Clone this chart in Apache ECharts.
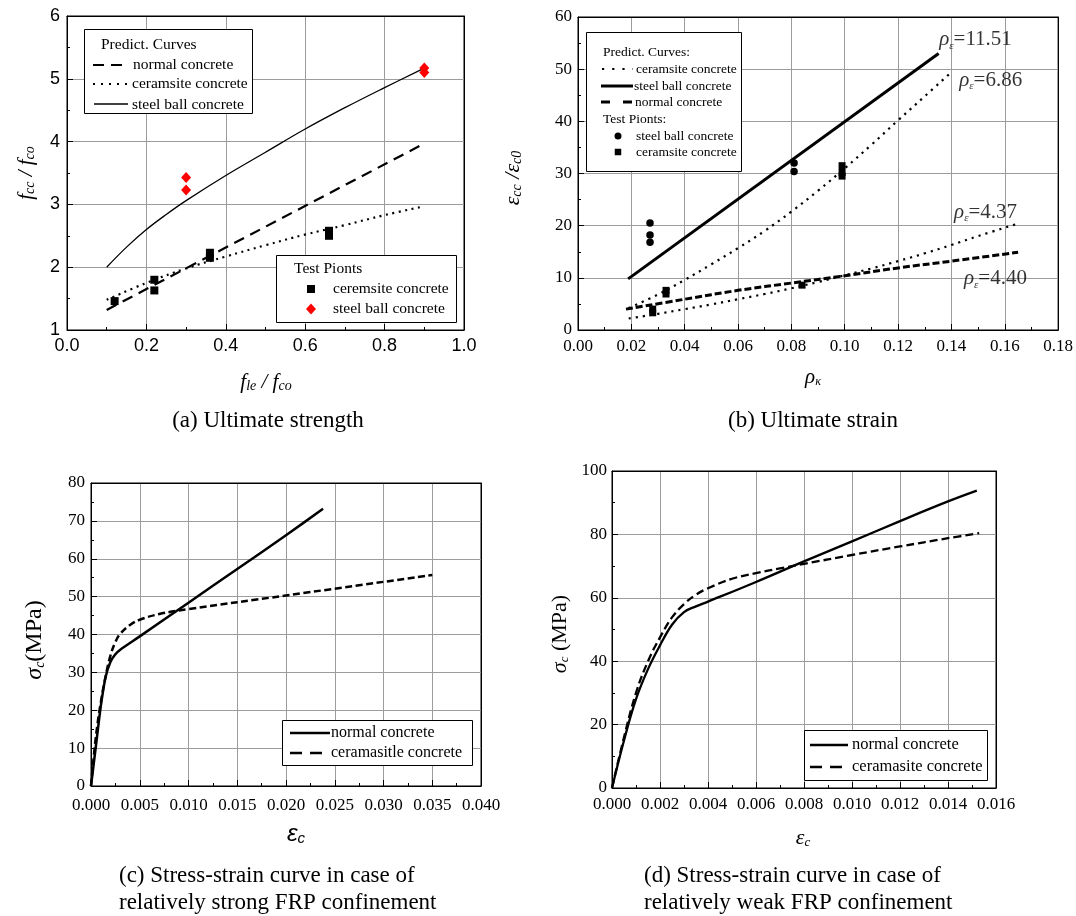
<!DOCTYPE html>
<html>
<head>
<meta charset="utf-8">
<script src="https://cdn.jsdelivr.net/npm/echarts@6/dist/echarts.min.js"></script>
<style>
  html, body { margin: 0; padding: 0; background: #fff; }
  #chart { width: 1076px; height: 916px; }
</style>
</head>
<body>
<div id="chart"></div>
<script>
// ---------- (a) Ultimate strength ----------
const aCurveX = [0.1, 0.2, 0.3, 0.4, 0.5, 0.6, 0.7, 0.8, 0.9];
const aCeramsiteCurve = [1.48, 1.75, 1.98, 2.17, 2.35, 2.52, 2.67, 2.83, 2.97];
const aNormalX = [0.1, 0.9];
const aNormalCurve = [1.32, 3.97];
const aSteelX = [0.1, 0.15, 0.2, 0.25, 0.3, 0.4, 0.5, 0.6, 0.7, 0.8, 0.9];
const aSteelCurve = [2.0, 2.32, 2.6, 2.84, 3.06, 3.46, 3.83, 4.2, 4.54, 4.86, 5.17];
const aCeramsiteTestX = [0.12, 0.22, 0.22, 0.36, 0.36, 0.66, 0.66];
const aCeramsiteTestY = [1.46, 1.80, 1.63, 2.23, 2.15, 2.58, 2.50];
const aSteelTestX = [0.3, 0.3, 0.9, 0.9];
const aSteelTestY = [3.43, 3.23, 5.17, 5.10];
const aXTicks = ['0.0', '0.2', '0.4', '0.6', '0.8', '1.0'];
const aYTicks = ['1', '2', '3', '4', '5', '6'];

// ---------- (b) Ultimate strain ----------
const bSteelX = [0.0188, 0.1352];
const bSteelCurve = [9.8, 53.0];
const bCeramHighX = [0.019, 0.03, 0.04, 0.05, 0.06, 0.07, 0.08, 0.09, 0.10, 0.11, 0.12, 0.13, 0.1395];
const bCeramHighCurve = [4.2, 6.8, 9.6, 12.6, 15.7, 19.0, 22.7, 26.7, 31.0, 35.5, 40.2, 44.8, 49.2];
const bCeramLowX = [0.019, 0.03, 0.04, 0.05, 0.06, 0.07, 0.08, 0.09, 0.10, 0.11, 0.12, 0.13, 0.14, 0.15, 0.1644];
const bCeramLowCurve = [2.2, 3.1, 4.0, 4.9, 5.9, 6.9, 8.0, 9.2, 10.5, 11.8, 13.2, 14.7, 16.3, 18.0, 20.3];
const bNormalX = [0.018, 0.04, 0.06, 0.08, 0.10, 0.12, 0.14, 0.165];
const bNormalCurve = [4.0, 5.9, 7.6, 9.0, 10.4, 11.9, 13.2, 14.9];
const bSteelTestX = [0.027, 0.027, 0.027, 0.081, 0.081];
const bSteelTestY = [20.5, 18.2, 16.8, 32.0, 30.4];
const bCeramTestX = [0.028, 0.028, 0.033, 0.033, 0.084, 0.099, 0.099, 0.099];
const bCeramTestY = [4.0, 3.3, 7.6, 6.9, 8.6, 31.5, 30.2, 29.5];
const bRhoValues = ['11.51', '6.86', '4.37', '4.40'];
const bRhoX = [0.1352, 0.1427, 0.1408, 0.1445];
const bRhoY = [55.6, 47.9, 22.6, 9.8];
const bXTicks = ['0.00', '0.02', '0.04', '0.06', '0.08', '0.10', '0.12', '0.14', '0.16', '0.18'];
const bYTicks = ['0', '10', '20', '30', '40', '50', '60'];

// ---------- (c) strong FRP confinement ----------
const cNormalX = [0, 0.0005, 0.001, 0.0015, 0.002, 0.0025, 0.003, 0.005, 0.01, 0.015, 0.02, 0.0238];
const cNormalY = [0, 10.5, 21, 28.8, 32.8, 34.8, 36.0, 39.5, 48.4, 57.3, 66.2, 73.2];
const cCeramX = [0, 0.0005, 0.001, 0.0015, 0.002, 0.0025, 0.003, 0.004, 0.005, 0.007, 0.01, 0.02, 0.035];
const cCeramY = [0, 13, 22, 29, 34.5, 38, 40.2, 42.5, 43.9, 45.4, 46.7, 50.3, 55.7];
const cXTicks = ['0.000', '0.005', '0.010', '0.015', '0.020', '0.025', '0.030', '0.035', '0.040'];
const cYTicks = ['0', '10', '20', '30', '40', '50', '60', '70', '80'];

// ---------- (d) weak FRP confinement ----------
const dNormalX = [0, 0.0005, 0.001, 0.0015, 0.002, 0.0025, 0.003, 0.0035, 0.004, 0.006, 0.008, 0.01, 0.012, 0.014, 0.0152];
const dNormalY = [0, 15, 28, 37.5, 45, 51.5, 55.5, 57.3, 58.8, 65, 71.5, 77.8, 84.2, 90.4, 93.8];
const dCeramX = [0, 0.0005, 0.001, 0.0015, 0.002, 0.0025, 0.003, 0.0035, 0.004, 0.005, 0.006, 0.007, 0.008, 0.01, 0.012, 0.014, 0.0153];
const dCeramY = [0, 16, 30, 40, 47.5, 53.8, 58, 61, 63, 66, 67.8, 69.3, 70.7, 73.5, 76.2, 78.8, 80.4];
const dXTicks = ['0.000', '0.002', '0.004', '0.006', '0.008', '0.010', '0.012', '0.014', '0.016'];
const dYTicks = ['0', '20', '40', '60', '80', '100'];

const SERIF = '"Liberation Serif", "Times New Roman", serif';
const SANS = '"Liberation Sans", Arial, sans-serif';
const GRID_GRAY = '#9c9c9c';

const pairs = (xs, ys) => xs.map((x, i) => [x, ys[i]]);

const grids = [
  { left: 67, top: 16, width: 397, height: 314 },
  { left: 578, top: 17, width: 482, height: 313 },
  { left: 91, top: 483, width: 390, height: 303 },
  { left: 612, top: 471, width: 384, height: 317 }
].map(g => Object.assign({ show: true, borderColor: '#000', borderWidth: 1, backgroundColor: 'transparent' }, g));

function mainAxis(gi, o) {
  return {
    type: 'value', gridIndex: gi, min: o.min, max: o.max, interval: o.interval,
    axisLine: { show: true, onZero: false, lineStyle: { color: '#000', width: 1 } },
    axisTick: { show: true, inside: true, length: 6, lineStyle: { color: '#000' } },
    minorTick: { show: true, splitNumber: 2, length: 3, lineStyle: { color: '#000' } },
    splitLine: { show: true, lineStyle: { color: GRID_GRAY, width: 1 } },
    axisLabel: {
      margin: o.margin, fontFamily: o.font, fontSize: o.size, color: '#000',
      formatter: v => o.labels[Math.round((v - o.min) / o.interval)]
    }
  };
}
function frameAxis(gi, o, pos) {
  return {
    type: 'value', gridIndex: gi, min: o.min, max: o.max, interval: o.interval, position: pos,
    axisLine: { show: true, onZero: false, lineStyle: { color: '#000', width: 1 } },
    axisTick: { show: false }, axisLabel: { show: false }, splitLine: { show: false }
  };
}

const xSpec = [
  { min: 0, max: 1, interval: 0.2, labels: aXTicks, font: SANS, size: 18, margin: 7 },
  { min: 0, max: 0.18, interval: 0.02, labels: bXTicks, font: SERIF, size: 17, margin: 8 },
  { min: 0, max: 0.04, interval: 0.005, labels: cXTicks, font: SERIF, size: 17, margin: 11 },
  { min: 0, max: 0.016, interval: 0.002, labels: dXTicks, font: SERIF, size: 17, margin: 8 }
];
const ySpec = [
  { min: 1, max: 6, interval: 1, labels: aYTicks, font: SANS, size: 18, margin: 7 },
  { min: 0, max: 60, interval: 10, labels: bYTicks, font: SERIF, size: 17, margin: 6 },
  { min: 0, max: 80, interval: 10, labels: cYTicks, font: SERIF, size: 17, margin: 6 },
  { min: 0, max: 100, interval: 20, labels: dYTicks, font: SERIF, size: 17, margin: 5 }
];

const xAxes = xSpec.map((o, i) => mainAxis(i, o)).concat(xSpec.map((o, i) => frameAxis(i, o, 'top')));
const yAxes = ySpec.map((o, i) => mainAxis(i, o)).concat(ySpec.map((o, i) => frameAxis(i, o, 'right')));

function curve(gi, xs, ys, width, dash, smooth) {
  return {
    type: 'line', xAxisIndex: gi, yAxisIndex: gi, data: pairs(xs, ys),
    symbol: 'none', showSymbol: false, smooth: smooth || false,
    lineStyle: { color: '#000', width: width, type: dash || 'solid', cap: 'butt', join: 'round' },
    silent: true, z: 3
  };
}
function points(gi, xs, ys, symbol, size, color) {
  return {
    type: 'scatter', xAxisIndex: gi, yAxisIndex: gi, data: pairs(xs, ys),
    symbol: symbol, symbolSize: size, itemStyle: { color: color, opacity: 1 }, silent: true, z: 5
  };
}

const rhoRich = {
  r: { fontFamily: SERIF, fontStyle: 'italic', fontSize: 21, color: '#000', lineHeight: 25 },
  e: { fontFamily: SERIF, fontStyle: 'italic', fontSize: 11, color: '#000', padding: [12, 0, 0, 0], lineHeight: 12 },
  v: { fontFamily: SERIF, fontSize: 21, color: '#000', lineHeight: 25 }
};

const series = [
  // (a)
  curve(0, aCurveX, aCeramsiteCurve, 2.2, [2, 4.5], 0.4),
  curve(0, aNormalX, aNormalCurve, 2.2, [11, 7]),
  curve(0, aSteelX, aSteelCurve, 1.3, 'solid', 0.4),
  points(0, aCeramsiteTestX, aCeramsiteTestY, 'rect', 8, '#000'),
  points(0, aSteelTestX, aSteelTestY, 'diamond', [10, 11], '#ff0000'),
  // (b)
  curve(1, bSteelX, bSteelCurve, 3, 'solid'),
  curve(1, bCeramHighX, bCeramHighCurve, 2.2, [2.2, 5], 0.4),
  curve(1, bCeramLowX, bCeramLowCurve, 2.2, [2.2, 5], 0.4),
  curve(1, bNormalX, bNormalCurve, 3, [7, 3], 0.4),
  points(1, bSteelTestX, bSteelTestY, 'circle', 7.5, '#000'),
  points(1, bCeramTestX, bCeramTestY, 'rect', 7, '#000'),
  {
    type: 'scatter', xAxisIndex: 1, yAxisIndex: 1, data: pairs(bRhoX, bRhoY),
    symbolSize: 1, itemStyle: { color: 'rgba(0,0,0,0)' }, silent: true, z: 6,
    label: {
      show: true, position: 'right', distance: 0,
      formatter: p => '{r|ρ}{e|ε}{v|=' + bRhoValues[p.dataIndex] + '}',
      rich: rhoRich
    }
  },
  // (c)
  curve(2, cNormalX, cNormalY, 2.5, 'solid', 0.25),
  curve(2, cCeramX, cCeramY, 2.5, [7, 3.5], 0.4),
  // (d)
  curve(3, dNormalX, dNormalY, 2.3, 'solid', 0.4),
  curve(3, dCeramX, dCeramY, 2.3, [8, 4], 0.4)
];

// ---------- legends, axis titles and captions ----------
const G = [];
function box(x, y, w, h) {
  G.push({ type: 'rect', z: 100, shape: { x: x + 0.5, y: y + 0.5, width: w, height: h },
    style: { fill: '#fff', stroke: '#000', lineWidth: 1 } });
}
function txt(x, y, text, size, extra) {
  G.push({ type: 'text', z: 101, x: x, y: y, style: Object.assign({
    text: text, fontFamily: SERIF, fontSize: size, fill: '#000',
    align: 'left', verticalAlign: 'middle', textAlign: 'left', textVerticalAlign: 'middle'
  }, extra || {}) });
}
function seg(x1, x2, y, width, dash) {
  G.push({ type: 'line', z: 101, shape: { x1: x1, y1: y, x2: x2, y2: y },
    style: { stroke: '#000', lineWidth: width, lineDash: dash || null } });
}
function sq(cx, cy, s) {
  G.push({ type: 'rect', z: 101, shape: { x: cx - s / 2, y: cy - s / 2, width: s, height: s }, style: { fill: '#000' } });
}
function dot(cx, cy, r) {
  G.push({ type: 'circle', z: 101, shape: { cx: cx, cy: cy, r: r }, style: { fill: '#000' } });
}
function diamond(cx, cy, w, h, color) {
  G.push({ type: 'polygon', z: 101, shape: { points: [[cx, cy - h / 2], [cx + w / 2, cy], [cx, cy + h / 2], [cx - w / 2, cy]] },
    style: { fill: color } });
}
function rich(x, y, text, richStyles, rotate) {
  G.push({ type: 'text', z: 101, x: x, y: y, rotation: rotate ? Math.PI / 2 : 0, style: {
    text: text, rich: richStyles, fill: '#000',
    align: 'center', verticalAlign: 'middle', textAlign: 'center', textVerticalAlign: 'middle'
  } });
}
function symRich(mainSize, subSize, drop, mainFamily) {
  const fam = mainFamily || SERIF;
  return {
    i: { fontFamily: fam, fontStyle: 'italic', fontSize: mainSize, color: '#000', lineHeight: mainSize + 4 },
    s: { fontFamily: fam, fontStyle: 'italic', fontSize: subSize, color: '#000', padding: [drop, 0, 0, 0], lineHeight: subSize },
    n: { fontFamily: SERIF, fontSize: mainSize, color: '#000', lineHeight: mainSize + 4 }
  };
}

// (a) prediction-curve legend
box(84, 29, 168, 84);
txt(101, 45, 'Predict. Curves', 15.5);
seg(93, 122, 65, 2.2, [11, 7]);
txt(133, 65, 'normal concrete', 15.5);
seg(93, 130, 84, 2.2, [2, 6]);
txt(132, 84, 'ceramsite concrete', 15.5);
seg(94, 128, 104, 1.3);
txt(132, 105, 'steel ball concrete', 15.5);
// (a) test-point legend
box(276, 255, 180, 67);
txt(294, 269, 'Test Pionts', 15.5);
sq(311, 289, 8);
txt(333, 289, 'ceremsite concrete', 15.5);
diamond(311, 309, 10, 11, '#ff0000');
txt(333, 309, 'steel ball concrete', 15.5);

// (b) legend
box(586, 32, 155, 139);
txt(603, 52, 'Predict. Curves:', 13.5);
seg(602, 633, 69, 2.2, [2.2, 8]);
txt(636, 69, 'ceramsite concrete', 13.5);
seg(601, 633, 86, 3);
txt(634, 86, 'steel ball concrete', 13.5);
seg(601, 634, 102, 3, [9, 13]);
txt(635, 102, 'normal concrete', 13.5);
txt(603, 119, 'Test Pionts:', 13.5);
dot(618, 136, 3.5);
txt(636, 136, 'steel ball concrete', 13.5);
sq(618, 152, 6.5);
txt(636, 152, 'ceramsite concrete', 13.5);

// (c) legend
box(282, 720, 190, 45);
seg(290, 330, 733, 2.5);
txt(331, 733, 'normal concrete', 16);
seg(290, 330, 753, 2.5, [12, 8]);
txt(331, 753, 'ceramasitle concrete', 16);

// (d) legend
box(804, 730, 183, 50);
seg(810, 848, 745, 2.3);
txt(852, 745, 'normal concrete', 16.5);
seg(810, 848, 767, 2.3, [12, 8]);
txt(852, 767, 'ceramasite concrete', 16.5);

// axis titles
rich(26, 173, '{i|f}{s|cc}{i| / f}{s|co}', symRich(21, 14, 9), true);
rich(266, 382, '{i|f}{s|le}{i| / f}{s|co}', symRich(21, 14, 9), false);
rich(513, 178, '{i|ε}{s|cc}{i| /ε}{s|c0}', symRich(22, 14, 9), true);
rich(813, 377, '{i|ρ}{s|κ}', symRich(21, 12, 10), false);
rich(35, 640, '{i|σ}{s|c}{n|(MPa)}', symRich(24, 14, 11), true);
rich(296, 834, '{i|ε}{s|c}', symRich(24, 15, 10, SANS), false);
rich(560, 634, '{i|σ}{s|c}{n| (MPa)}', symRich(22, 13, 10), true);
rich(803, 838, '{i|ε}{s|c}', symRich(22, 13, 10), false);

// captions
G.push({ type: 'text', z: 101, x: 268, y: 421, style: { text: '(a) Ultimate strength', fontFamily: SERIF, fontSize: 23, fill: '#000', align: 'center', verticalAlign: 'middle', textAlign: 'center', textVerticalAlign: 'middle' } });
G.push({ type: 'text', z: 101, x: 813, y: 421, style: { text: '(b) Ultimate strain', fontFamily: SERIF, fontSize: 23, fill: '#000', align: 'center', verticalAlign: 'middle', textAlign: 'center', textVerticalAlign: 'middle' } });
txt(119, 876, '(c) Stress-strain curve in case of', 23);
txt(119, 903, 'relatively strong FRP confinement', 23);
txt(644, 876, '(d) Stress-strain curve in case of', 23);
txt(644, 903, 'relatively weak FRP confinement', 23);

const chart = echarts.init(document.getElementById('chart'), null, { renderer: 'canvas' });
chart.setOption({
  animation: false,
  backgroundColor: '#fff',
  grid: grids,
  xAxis: xAxes,
  yAxis: yAxes,
  series: series,
  graphic: { elements: G }
});
</script>
</body>
</html>
